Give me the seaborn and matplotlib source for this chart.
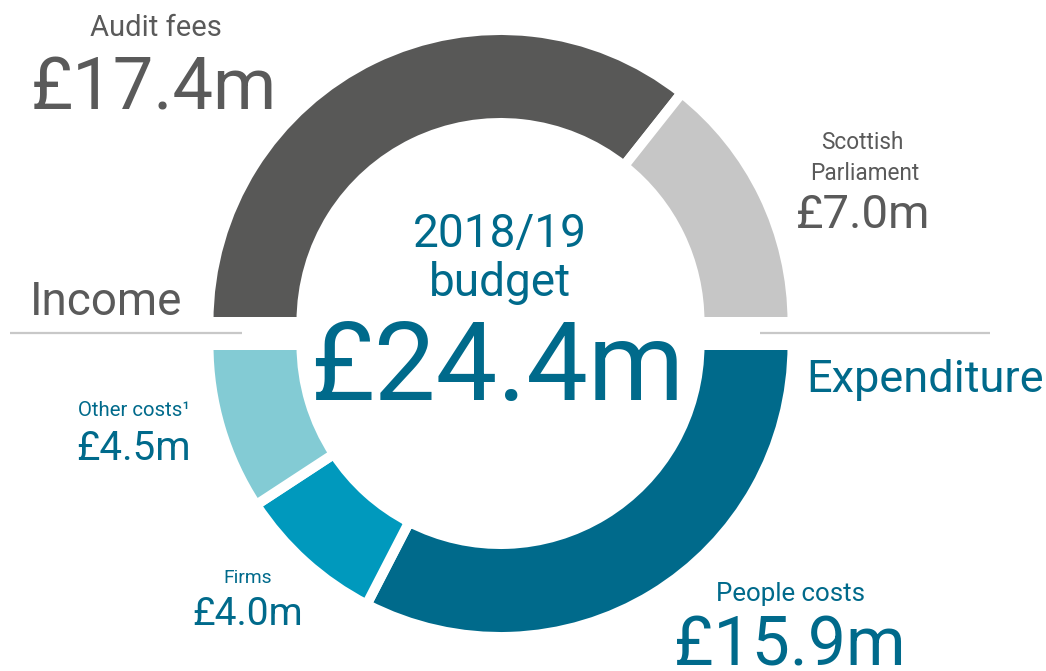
import matplotlib
matplotlib.use("Agg")
import matplotlib.pyplot as plt
import seaborn as sns

# Budget figures (£m)
budget_year = "2018/19"
budget_total = 24.4
income_labels = ["Audit fees", "Scottish\nParliament"]
income_values = [17.4, 7.0]
expenditure_labels = ["People costs", "Firms", "Other costs\u00b9"]
expenditure_values = [15.9, 4.0, 4.5]

GREY_DARK = "#585857"
GREY_LIGHT = "#c6c6c6"
TEAL_DARK = "#006a8b"
TEAL_MID = "#0099bd"
TEAL_LIGHT = "#83cbd4"
TEXT_GREY = "#5a5a5a"
TEXT_TEAL = "#006a8b"
RULE = "#c8c8c8"

sns.set_theme(style="white")
plt.rcParams["font.family"] = ["Roboto", "DejaVu Sans"]

W, H = 1046, 671
fig = plt.figure(figsize=(W / 100, H / 100), dpi=100)
ax = fig.add_axes([0, 0, 1, 1])

income_colors = sns.color_palette([GREY_DARK, GREY_LIGHT])
exp_colors = sns.color_palette([TEAL_DARK, TEAL_MID, TEAL_LIGHT])

R, RING = 292, 93
wp = dict(width=RING, edgecolor="white", linewidth=7.2)
cx = 500.5

# Upper half: income, running clockwise from 9 o'clock to 3 o'clock
top_wedges, _ = ax.pie(income_values + [sum(income_values)],
                       colors=list(income_colors) + ["white"],
                       startangle=180, counterclock=False, radius=R,
                       center=(cx, H - 322), wedgeprops=wp)
top_wedges[-1].set_visible(False)

# Lower half: expenditure, running clockwise from 3 o'clock to 9 o'clock
bot_wedges, _ = ax.pie(expenditure_values + [sum(expenditure_values)],
                       colors=list(exp_colors) + ["white"],
                       startangle=0, counterclock=False, radius=R,
                       center=(cx, H - 345), wedgeprops=wp)
bot_wedges[-1].set_visible(False)

ax.set_xlim(0, W)
ax.set_ylim(0, H)
ax.set_aspect("equal")
ax.axis("off")

# Divider rules
ax.plot([10, 242], [H - 333, H - 333], color=RULE, lw=1.6, solid_capstyle="butt")
ax.plot([760, 990], [H - 333, H - 333], color=RULE, lw=1.6, solid_capstyle="butt")


def txt(x, y, s, size, color, ha="center"):
    ax.text(x, H - y, s, fontsize=size, color=color, ha=ha, va="baseline",
            fontweight="normal", linespacing=1.0)


def money(v):
    return f"\u00a3{v:.1f}m"


# Centre
txt(500, 247, budget_year, 33, TEXT_TEAL)
txt(500, 296, "budget", 33, TEXT_TEAL)
txt(497, 400, money(budget_total), 79, TEXT_TEAL)

# Section headings
txt(30, 315, "Income", 33, TEXT_GREY, ha="left")
txt(806, 392, "Expenditure", 32.5, TEXT_TEAL, ha="left")

# Income labels
txt(156, 36, income_labels[0], 21, TEXT_GREY)
txt(154, 110, money(income_values[0]), 52, TEXT_GREY)
txt(862, 149, income_labels[1].split("\n")[0], 16.3, TEXT_GREY)
txt(865, 180, income_labels[1].split("\n")[1], 16.3, TEXT_GREY)
txt(863, 228, money(income_values[1]), 34, TEXT_GREY)

# Expenditure labels
txt(791, 601, expenditure_labels[0], 18.6, TEXT_TEAL)
txt(790, 666, money(expenditure_values[0]), 49, TEXT_TEAL)
txt(248, 583, expenditure_labels[1], 13.9, TEXT_TEAL)
txt(248, 625, money(expenditure_values[1]), 28, TEXT_TEAL)
txt(134, 416, expenditure_labels[2], 14.7, TEXT_TEAL)
txt(134, 460, money(expenditure_values[2]), 29, TEXT_TEAL)

fig.savefig("out.png", dpi=100)
